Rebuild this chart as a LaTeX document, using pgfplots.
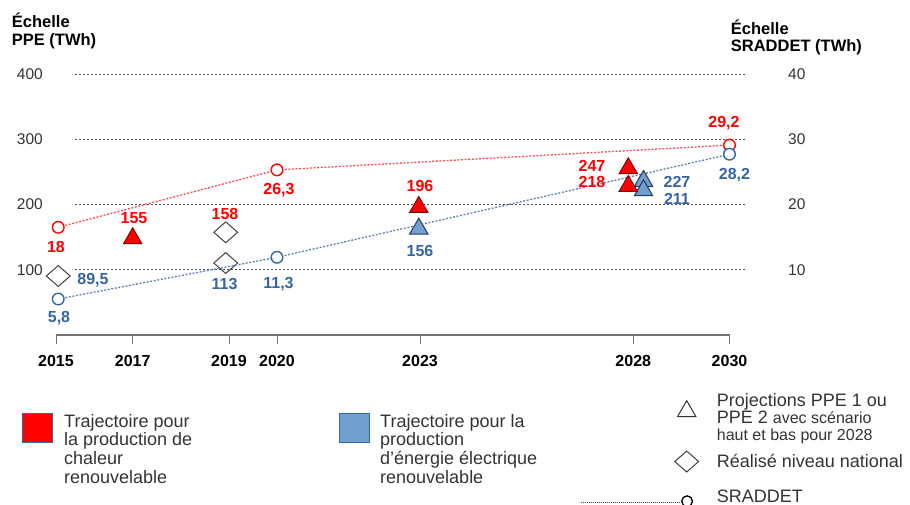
\documentclass[border=0pt]{standalone}
\usepackage{pgfplots}
\pgfplotsset{compat=1.18}
\usepackage{fontspec}
\setmainfont{Liberation Sans}
\definecolor{cred}{HTML}{FF0000}
\definecolor{credline}{HTML}{FF4D4D}
\definecolor{credge}{HTML}{800000}
\definecolor{cblue}{HTML}{3465A4}
\definecolor{cblueline}{HTML}{5B83B9}
\definecolor{cbluefill}{HTML}{729FCF}
\definecolor{cblueedge}{HTML}{203A5C}
\definecolor{cgrid}{HTML}{505050}
\definecolor{caxis}{HTML}{737373}
\definecolor{ctext}{HTML}{333333}
\definecolor{cdiam}{HTML}{404040}

\newcommand{\fs}[1]{\fontsize{#1}{#1}\selectfont}

\pgfdeclareplotmark{tri}{%
  \pgfpathmoveto{\pgfqpointpolar{90}{\pgfplotmarksize}}%
  \pgfpathlineto{\pgfqpointpolar{-30}{\pgfplotmarksize}}%
  \pgfpathlineto{\pgfqpointpolar{210}{\pgfplotmarksize}}%
  \pgfpathclose
  \pgfusepathqfillstroke}
\pgfdeclareplotmark{dia}{%
  \pgfpathmoveto{\pgfqpoint{\pgfplotmarksize}{0pt}}%
  \pgfpathlineto{\pgfqpoint{0pt}{.88\pgfplotmarksize}}%
  \pgfpathlineto{\pgfqpoint{-\pgfplotmarksize}{0pt}}%
  \pgfpathlineto{\pgfqpoint{0pt}{-.88\pgfplotmarksize}}%
  \pgfpathclose
  \pgfusepathqstroke}

\pgfplotsset{
  % common x mapping: 2015 -> 56 px, 2030 -> 729.5 px
  base/.style={scale only axis, at={(51.5pt,169.1pt)}, anchor=south west,
    width=695.5pt, height=260.9pt,
    xmin=2014.9, xmax=2030.39, clip=false,
    /pgf/number format/assume math mode=true},
  gridax/.style={scale only axis, at={(75pt,169.1pt)}, anchor=south west,
    width=672pt, height=260.9pt,
    xmin=2015.423, xmax=2030.39, clip=false,
    /pgf/number format/assume math mode=true},
  legax/.style={scale only axis, at={(0pt,0pt)}, anchor=south west,
    width=910pt, height=504pt, xmin=0, xmax=910, ymin=0, ymax=504,
    y dir=reverse, hide axis, clip=false,
    legend style={draw=none, fill=none, inner sep=0pt, outer sep=0pt,
      nodes={inner sep=0pt, outer sep=0pt}, row sep=0pt, column sep=0pt}},
}
\tikzset{lab/.style={font=\bfseries\fs{16}, inner sep=0pt},
  legtxt/.style={anchor=base west, inner sep=0pt, text=ctext}}

\begin{document}
\begin{tikzpicture}[x=1pt,y=1pt]
\useasboundingbox (0,0) rectangle (910,504);

% ---------- left scale: grid, labels, realised values ----------
\begin{axis}[gridax, ymin=0, ymax=400,
  axis line style={draw=none}, xtick=\empty,
  ytick={100,200,300,400}, ymajorgrids,
  grid style={cgrid, line width=1pt, dash pattern=on 2pt off 2pt},
  ytick pos=left, ytick style={draw=none},
  yticklabel style={font=\fs{15.5}, text=ctext, anchor=east, inner sep=0pt, xshift=-32pt},
]
% Realise niveau national
\addplot[only marks, mark=dia, mark size=11.9pt, mark options={cdiam, line width=1pt}]
  coordinates {(2015.05,90.3) (2018.78,157.3) (2018.78,110.2)};
\end{axis}

% ---------- x axis (2015 to 2030) ----------
\begin{axis}[scale only axis, at={(56pt,169.1pt)}, anchor=south west,
  width=673.5pt, height=260.9pt, xmin=2015, xmax=2030, ymin=0, ymax=400,
  clip=false, axis x line*=bottom, axis y line=none,
  x axis line style={draw=caxis, line width=1.5pt, -},
  xtick={2015,2016.708,2018.853,2019.922,2023.107,2027.857,2030},
  xticklabels={2015,2017,2019,2020,2023,2028,2030},
  xtick align=outside, major tick length=9pt,
  xtick style={draw=caxis, line width=1pt},
  xticklabel style={font=\bfseries\fs{16}, text=black, inner sep=0pt, anchor=north, yshift=-11pt},
]
\addplot[draw=caxis, line width=1.5pt, mark=none, forget plot] coordinates {(2015,0.5) (2030,0.5)};
\end{axis}

% ---------- right scale: SRADDET ----------
\begin{axis}[base, ymin=0, ymax=40,
  axis line style={draw=none}, xtick=\empty,
  ytick={10,20,30,40}, ytick style={draw=none},
  ytick pos=right, yticklabel pos=right,
  yticklabel style={font=\fs{15.5}, text=ctext, anchor=west, inner sep=0pt, xshift=41pt},
]
\addplot[credline, line width=1.3pt, dash pattern=on 2pt off 1.6pt,
  mark=*, mark size=5.8pt, mark options={solid, draw=cred, fill=white, line width=1.4pt}]
  coordinates {(2015.05,16.5) (2019.922,25.3) (2030,29.1)};
\addplot[cblueline, line width=1.3pt, dash pattern=on 2pt off 1.6pt,
  mark=*, mark size=5.8pt, mark options={solid, draw=cblue, fill=white, line width=1.4pt}]
  coordinates {(2015.05,5.5) (2019.922,11.9) (2030,27.7)};
\end{axis}

% ---------- left scale: PPE projections and labels ----------
\begin{axis}[base, ymin=0, ymax=400, hide axis]
\addplot[only marks, mark=tri, mark size=10.6pt, mark options={fill=cbluefill, draw=cblueedge, line width=1pt}]
  coordinates {(2023.08,162.7) (2028.085,235.8) (2028.085,221.5)};
\addplot[only marks, mark=tri, mark size=10.6pt, mark options={fill=cred, draw=credge, line width=1pt}]
  coordinates {(2016.708,147.9) (2023.08,195.9) (2027.746,255.2) (2027.746,228.1)};
\node[lab, text=cred] at (axis cs:2015.0,135.2) {18};
\node[lab, text=cred] at (axis cs:2016.737,179.2) {155};
\node[lab, text=cred] at (axis cs:2018.764,185.3) {158};
\node[lab, text=cred] at (axis cs:2019.967,222.1) {26,3};
\node[lab, text=cred] at (axis cs:2023.107,228.3) {196};
\node[lab, text=cred] at (axis cs:2026.937,258.9) {247};
\node[lab, text=cred] at (axis cs:2026.937,234.4) {218};
\node[lab, text=cred] at (axis cs:2029.877,324.1) {29,2};
\node[lab, text=cblue] at (axis cs:2015.824,84.2) {89,5};
\node[lab, text=cblue] at (axis cs:2018.753,77.3) {113};
\node[lab, text=cblue] at (axis cs:2019.955,77.3) {11,3};
\node[lab, text=cblue] at (axis cs:2015.067,25.1) {5,8};
\node[lab, text=cblue] at (axis cs:2023.107,129.4) {156};
\node[lab, text=cblue] at (axis cs:2028.830,234.4) {227};
\node[lab, text=cblue] at (axis cs:2028.830,209.1) {211};
\node[lab, text=cblue] at (axis cs:2030.111,245.1) {28,2};
\end{axis}

% ---------- scale titles ----------
\node[anchor=base west, inner sep=0pt, font=\bfseries\fs{16.5}] at (11.7,476) {Échelle};
\node[anchor=base west, inner sep=0pt, font=\bfseries\fs{16.5}] at (11.7,458) {PPE (TWh)};
\node[anchor=base west, inner sep=0pt, font=\bfseries\fs{16.5}] at (730.7,469) {Échelle};
\node[anchor=base west, inner sep=0pt, font=\bfseries\fs{16.5}] at (730.7,452.3) {SRADDET (TWh)};

% ---------- legend symbols ----------
\begin{axis}[legax,
  legend style={at={(axis cs:21.6,412.6)}, anchor=north west},
  legend image code/.code={\draw[#1] (0pt,0pt) rectangle (30pt,-29pt);}]
\addlegendimage{fill=cred, draw=cblue, line width=0.8pt}
\addlegendentry{}
\end{axis}

\begin{axis}[legax,
  legend style={at={(axis cs:338.6,412.6)}, anchor=north west},
  legend image code/.code={\draw[#1] (0pt,0pt) rectangle (30pt,-29pt);}]
\addlegendimage{fill=cbluefill, draw=cblue, line width=0.8pt}
\addlegendentry{}
\end{axis}

\begin{axis}[legax,
  legend style={at={(axis cs:674.7,398.7)}, anchor=north west},
  legend image code/.code={\path[draw=none, fill=none] (-12pt,2pt) rectangle (12pt,-18pt);
    \draw[#1] (0pt,0pt) -- (9.2pt,-15.9pt) -- (-9.2pt,-15.9pt) -- cycle;}]
\addlegendimage{draw=black!80, fill=white, line width=1pt}
\addlegendentry{}
\end{axis}

\begin{axis}[legax,
  legend style={at={(axis cs:673.7,449.5)}, anchor=north west},
  legend image code/.code={\path[draw=none, fill=none] (-13pt,12pt) rectangle (13pt,-12pt);
    \draw[#1] (11.9pt,0pt) -- (0pt,10.5pt) -- (-11.9pt,0pt) -- (0pt,-10.5pt) -- cycle;}]
\addlegendimage{draw=cdiam, fill=white, line width=1pt}
\addlegendentry{}
\end{axis}

\begin{axis}[legax,
  legend style={at={(axis cs:580.7,492.5)}, anchor=north west},
  legend image code/.code={\path[draw=none, fill=none] (0pt,0pt) rectangle (113pt,-16pt);
    \draw[black!70, line width=0.8pt, dash pattern=on 1pt off 1pt] (0pt,-9pt) -- (100pt,-9pt);
    \draw[#1] (106pt,-8pt) circle (5.4pt);}]
\addlegendimage{draw=black, fill=white, line width=1.3pt}
\addlegendentry{}
\end{axis}

% ---------- legend texts ----------
\node[legtxt, font=\fontsize{18}{18.7}\selectfont] at (64,77)
  {\begin{tabular}[t]{@{}l@{}}Trajectoire pour\\la production de\\chaleur\\renouvelable\end{tabular}};
\node[legtxt, font=\fontsize{18}{18.7}\selectfont] at (380,77)
  {\begin{tabular}[t]{@{}l@{}}Trajectoire pour la\\production\\d’énergie électrique\\renouvelable\end{tabular}};
\node[legtxt, font=\fontsize{18}{17}\selectfont] at (716.7,98)
  {\begin{tabular}[t]{@{}l@{}}Projections PPE 1 ou\\PPE 2 {\fs{16}avec scénario}\\{\fs{16}haut et bas pour 2028}\end{tabular}};
\node[legtxt, font=\fontsize{18}{17}\selectfont] at (716.7,37) {Réalisé niveau national};
\node[legtxt, font=\fontsize{18}{17}\selectfont] at (716.7,2) {SRADDET};

% ---------- horizontal axis line, drawn last ----------
\draw[caxis, line width=1.5pt] (56,169.1) -- (729.5,169.1);
\end{tikzpicture}
\end{document}
